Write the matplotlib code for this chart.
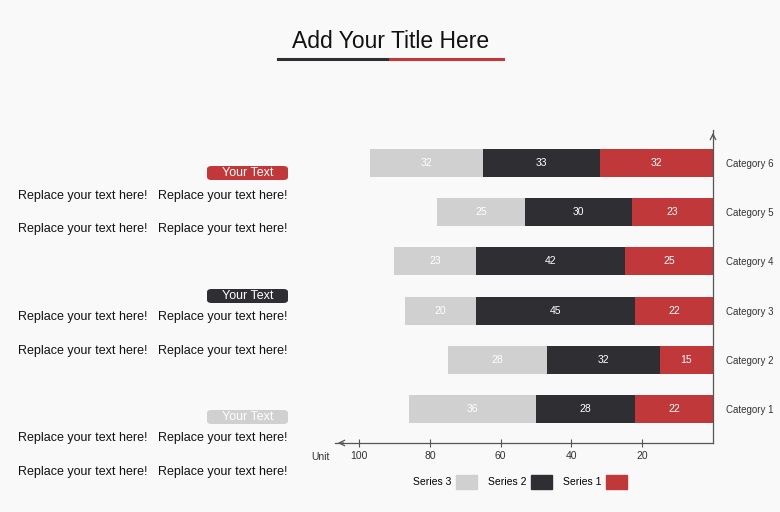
import matplotlib
matplotlib.use("Agg")
import matplotlib.pyplot as plt
from matplotlib.patches import FancyBboxPatch, Patch

plt.rcParams['font.family'] = ['Liberation Sans', 'DejaVu Sans']

categories = ["Category 1", "Category 2", "Category 3", "Category 4", "Category 5", "Category 6"]
series1 = [22, 15, 22, 25, 23, 32]
series2 = [28, 32, 45, 42, 30, 33]
series3 = [36, 28, 20, 23, 25, 32]
series_names = ["Series 1", "Series 2", "Series 3"]
x_ticks = [20, 40, 60, 80, 100]

box_labels = ["Your Text", "Your Text", "Your Text"]
body_line = "Replace your text here!   Replace your text here!"

red = "#c0383a"
dark = "#2e2e33"
gray = "#cfd0cf"
bg = "#f9f9f9"

W, H = 780, 512
fig = plt.figure(figsize=(7.8, 5.12), dpi=100, facecolor=bg)

# chart area (mirrored layout: axis on the right, bars grow to the left)
ax = fig.add_axes([335 / W, 69 / H, 378 / W, 313 / H])
ax.set_facecolor(bg)
ax.set_xlim(106.8, 0)
ax.set_ylim(-0.69, 5.67)

ypos = list(range(len(categories)))
h = 0.57
colors = [red, dark, gray]
left = [0] * len(categories)
handles = []
for vals, c, name in zip([series1, series2, series3], colors, series_names):
    bars = ax.barh(ypos, vals, left=left, height=h, color=c, label=name)
    for b, v, l in zip(bars, vals, left):
        ax.text(l + v / 2, b.get_y() + h / 2, str(v), ha="center", va="center",
                color="white", fontsize=7.5)
    left = [a + b for a, b in zip(left, vals)]
    handles.append(Patch(color=c, label=name))

for s in ["top", "left"]:
    ax.spines[s].set_visible(False)
ax.spines["right"].set_color("#555555")
ax.spines["bottom"].set_color("#555555")
ax.spines["right"].set_linewidth(0.9)
ax.spines["bottom"].set_linewidth(0.9)
# arrow heads: y axis sits at the right edge, x axis points left
ax.annotate("", xy=(1, 1.0), xytext=(1, 0.97), xycoords="axes fraction",
            arrowprops=dict(arrowstyle="->", color="#555555", lw=0.9))
ax.annotate("", xy=(0, 0), xytext=(0.03, 0), xycoords="axes fraction",
            arrowprops=dict(arrowstyle="->", color="#555555", lw=0.9))

ax.set_xticks(x_ticks)
ax.set_xticklabels([str(t) for t in x_ticks], fontsize=7.5, color="#333333")
ax.tick_params(axis="x", direction="inout", length=6, width=0.8, color="#555555", pad=3)
ax.yaxis.tick_right()
ax.set_yticks(ypos)
ax.set_yticklabels(categories, fontsize=7, color="#333333")
ax.tick_params(axis="y", length=0, pad=9)
fig.text(330 / W, 1 - 457 / H, "Unit", ha="right", va="center", fontsize=7.5, color="#333333")

# legend
fig.legend(handles=handles[::-1], loc="center", bbox_to_anchor=(520 / W, 1 - 482 / H),
           ncol=3, frameon=False, markerfirst=False, fontsize=7.5,
           handlelength=2.0, handleheight=1.6, columnspacing=1.0, handletextpad=0.5)

# title
fig.text(391 / W, 1 - 42 / H, "Add Your Title Here", ha="center", va="center",
         fontsize=16.5, color="#111111")
fig.add_artist(plt.Line2D([278 / W, 390 / W], [1 - 59 / H, 1 - 59 / H], color=dark, lw=2.2))
fig.add_artist(plt.Line2D([390 / W, 503 / W], [1 - 59 / H, 1 - 59 / H], color=red, lw=2.2))

# text blocks on the left
box_colors = [red, dark, "#d0d0d0"]
box_y = [173, 296, 417]
line_y = [[196, 229], [317, 351], [438, 472]]
for lab, c, by, ly in zip(box_labels, box_colors, box_y, line_y):
    x0, x1 = 207, 288
    fig.add_artist(FancyBboxPatch((x0 / W, 1 - (by + 7) / H), (x1 - x0) / W, 14 / H,
                                  boxstyle="round,pad=0,rounding_size=0.006",
                                  transform=fig.transFigure, color=c, lw=0))
    fig.text((x0 + x1) / 2 / W, 1 - by / H, lab, ha="center", va="center",
             fontsize=9, color="white")
    for yy in ly:
        fig.text(288 / W, 1 - yy / H, body_line, ha="right", va="center",
                 fontsize=9, color="#111111")

fig.savefig("out.png", dpi=100, facecolor=bg)
